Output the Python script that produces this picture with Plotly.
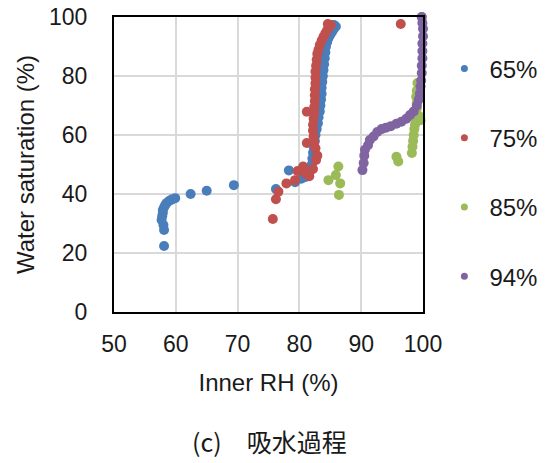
import plotly.graph_objects as go

# ---- data ----
rh65 = [58.1, 58.1, 58.0, 57.7, 57.8, 57.9, 57.9, 58.1, 58.3, 58.5, 58.9, 59.3, 59.9, 62.4, 65.0, 69.4,
        76.2, 78.3, 79.3, 80.3, 81.0, 81.5, 81.8, 82.0, 82.1, 82.2, 82.3, 82.5, 82.6, 82.8, 83.0, 83.1,
        83.3, 83.4, 83.5, 83.6, 83.6, 83.7, 83.8, 83.9, 84.0, 84.1, 84.2, 84.3, 84.5, 84.7, 85.0, 85.3,
        85.6, 85.9, 85.6]
ws65 = [22.4, 27.8, 29.5, 31.2, 32.5, 33.6, 34.6, 35.5, 36.3, 36.9, 37.6, 38.1, 38.6, 40.0, 41.1, 43.0,
        41.7, 48.0, 44.0, 45.2, 45.8, 46.5, 48.0, 50.0, 52.0, 54.0, 56.0, 58.0, 60.0, 62.0, 64.0, 66.0,
        68.0, 70.0, 72.0, 74.0, 76.0, 78.0, 80.0, 82.0, 84.0, 86.0, 88.0, 90.0, 91.5, 92.8, 94.0, 95.0,
        96.0, 96.8, 97.3]

rh75 = [75.7, 76.2, 76.6, 77.9, 79.3, 79.7, 80.6, 81.0, 81.6, 82.2, 82.7, 82.9, 81.2, 82.6, 82.4, 82.3,
        82.2, 82.2, 81.2, 82.3, 82.4, 82.4, 82.5, 82.5, 82.5, 82.6, 82.6, 82.6, 82.7, 82.8, 82.9, 83.1,
        83.3, 83.6, 83.9, 84.2, 84.5, 84.8, 85.1, 84.6, 96.4]
ws75 = [31.5, 38.2, 40.8, 43.6, 44.7, 47.8, 49.3, 47.0, 46.0, 48.5, 51.5, 53.0, 57.3, 55.5, 57.5, 59.5,
        61.5, 63.5, 67.9, 65.5, 67.5, 69.5, 71.5, 73.5, 75.5, 77.5, 79.5, 81.5, 83.5, 85.5, 87.5, 89.0,
        90.5, 92.0, 93.3, 94.5, 95.6, 96.5, 97.3, 97.6, 97.6]

rh85 = [84.7, 85.9, 86.3, 86.6, 86.4, 95.7, 96.0, 98.2, 98.3, 98.4, 98.5, 98.6, 98.7, 98.8, 98.9, 99.0,
        99.0, 98.9, 99.0, 99.1, 99.8, 99.6, 99.3]
ws85 = [44.7, 46.4, 49.3, 43.6, 39.7, 52.6, 51.0, 53.9, 56.0, 58.0, 60.0, 62.0, 63.5, 65.0, 67.0, 69.0,
        71.0, 73.0, 75.0, 77.6, 100.0, 65.0, 66.5]

rh94 = [90.2, 90.4, 90.5, 90.6, 91.1, 91.4, 92.0, 92.6, 93.3, 94.0, 94.8, 95.7, 96.5, 97.3, 97.9, 98.5,
        99.0, 99.3, 99.5, 99.6, 99.7, 99.8, 99.8, 99.9, 99.9, 99.9, 100.0, 100.0, 99.9, 99.8]
ws94 = [48.1, 50.5, 53.0, 55.0, 56.5, 58.3, 59.5, 61.0, 62.0, 62.5, 63.0, 63.8, 64.5, 65.5, 66.8, 68.0,
        70.0, 72.0, 74.0, 76.4, 78.5, 81.0, 83.5, 86.0, 88.5, 91.0, 93.5, 96.0, 98.0, 100.0]

series_names = ["65%", "75%", "85%", "94%"]
series_x = [rh65, rh75, rh85, rh94]
series_y = [ws65, ws75, ws85, ws94]
colors = ["#4a7ebb", "#c0504d", "#9bbb59", "#8064a2"]

x_ticks = [50, 60, 70, 80, 90, 100]
y_ticks = [0, 20, 40, 60, 80, 100]

FONT = "Liberation Sans, Arial, sans-serif"
TXT = "#1a1a1a"

fig = go.Figure()
for name, xs, ys, c in zip(series_names, series_x, series_y, colors):
    fig.add_trace(go.Scatter(x=xs, y=ys, mode="markers", name=name, showlegend=False,
                             cliponaxis=False,
                             marker=dict(size=10, color=c, line=dict(width=0))))
for i, (name, c) in enumerate(zip(series_names, colors)):
    fig.add_trace(go.Scatter(x=[None], y=[None], mode="markers", name=name,
                             legendgroup=f"g{i}", showlegend=True,
                             marker=dict(size=7, color=c)))

fig.update_layout(
    width=550, height=463,
    margin=dict(l=114, r=127, t=17, b=151, autoexpand=False),
    paper_bgcolor="white", plot_bgcolor="white",
    font=dict(family=FONT, size=23, color=TXT),
    legend=dict(x=1.053, xanchor="left", y=0.9, yanchor="top", itemwidth=40,
                font=dict(size=24, family=FONT, color=TXT), tracegroupgap=35,
                bgcolor="rgba(0,0,0,0)", borderwidth=0),
    xaxis=dict(range=[50, 100], tickvals=x_ticks, showgrid=True, gridcolor="#d9d9d9", gridwidth=2,
               zeroline=False, showline=True, linecolor="black", linewidth=2, mirror=True,
               automargin=False,
               ticks="", ticklen=0, tickfont=dict(size=23), ticklabelstandoff=10,
               title=dict(text="Inner RH (%)", font=dict(size=24), standoff=19)),
    yaxis=dict(range=[0, 100], tickvals=y_ticks, showgrid=True, gridcolor="#d9d9d9", gridwidth=2,
               zeroline=False, showline=True, linecolor="black", linewidth=2, mirror=True,
               automargin=False,
               ticks="", ticklen=0, tickfont=dict(size=23), ticklabelstandoff=20,
               title=dict(text="Water saturation (%)", font=dict(size=24), standoff=8)),
    annotations=[dict(text="(c)\u3000吸水過程", xref="paper", yref="paper",
                      x=(269 - 114) / 309, y=(312 - 441) / 295, xanchor="center", yanchor="middle",
                      showarrow=False,
                      font=dict(size=25, family="Noto Sans CJK JP, sans-serif", color=TXT))],
)

fig.write_html("out.html")
